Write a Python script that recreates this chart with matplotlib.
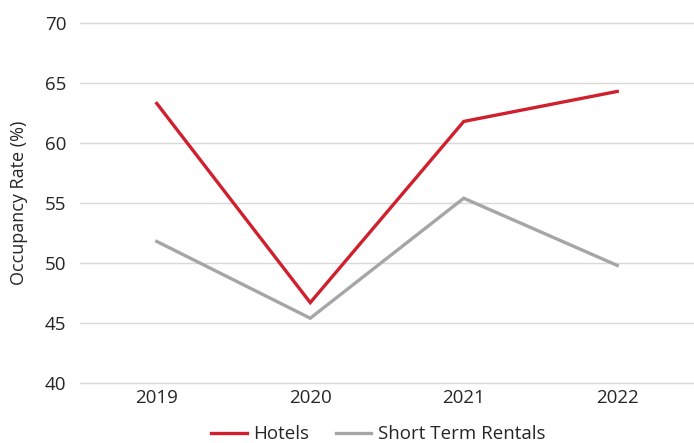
import matplotlib.pyplot as plt

plt.rcParams['font.family'] = ['Open Sans', 'DejaVu Sans']

years = ['2019', '2020', '2021', '2022']
hotels = [63.3, 46.7, 61.8, 64.3]
rentals = [51.8, 45.4, 55.4, 49.8]

fig = plt.figure(figsize=(6.94, 4.43), dpi=100)
ax = fig.add_axes([0.1153, 0.1354, 0.8847, 0.8126])

x = [i + 0.5 for i in range(len(years))]
ax.plot(x, hotels, color='#D0202E', lw=2.4, label='Hotels', solid_joinstyle='miter')
ax.plot(x, rentals, color='#A6A6A6', lw=2.4, label='Short Term Rentals', solid_joinstyle='miter')

ax.set_xlim(0, 4)
ax.set_ylim(40, 70)
ax.set_yticks(range(40, 71, 5))
ax.set_xticks(x)
ax.set_xticklabels(years)
ax.grid(axis='y', color='#D9D9D9', lw=1)
for g in ax.get_ygridlines():
    g.set_clip_on(False)
ax.set_axisbelow(True)
for s in ax.spines.values():
    s.set_visible(False)
ax.tick_params(length=0, labelsize=13.5, colors='#262626', pad=4)
ax.tick_params(axis='y', pad=10)
ax.set_ylabel('Occupancy Rate (%)', fontsize=13, color='#262626', labelpad=12)

fig.legend(*ax.get_legend_handles_labels(), loc='center', bbox_to_anchor=(0.545, 0.02),
           ncol=2, frameon=False, fontsize=13.5, handlelength=1.9, handletextpad=0.35,
           columnspacing=1.4, labelcolor='#262626')

fig.savefig('out.png', dpi=100)
